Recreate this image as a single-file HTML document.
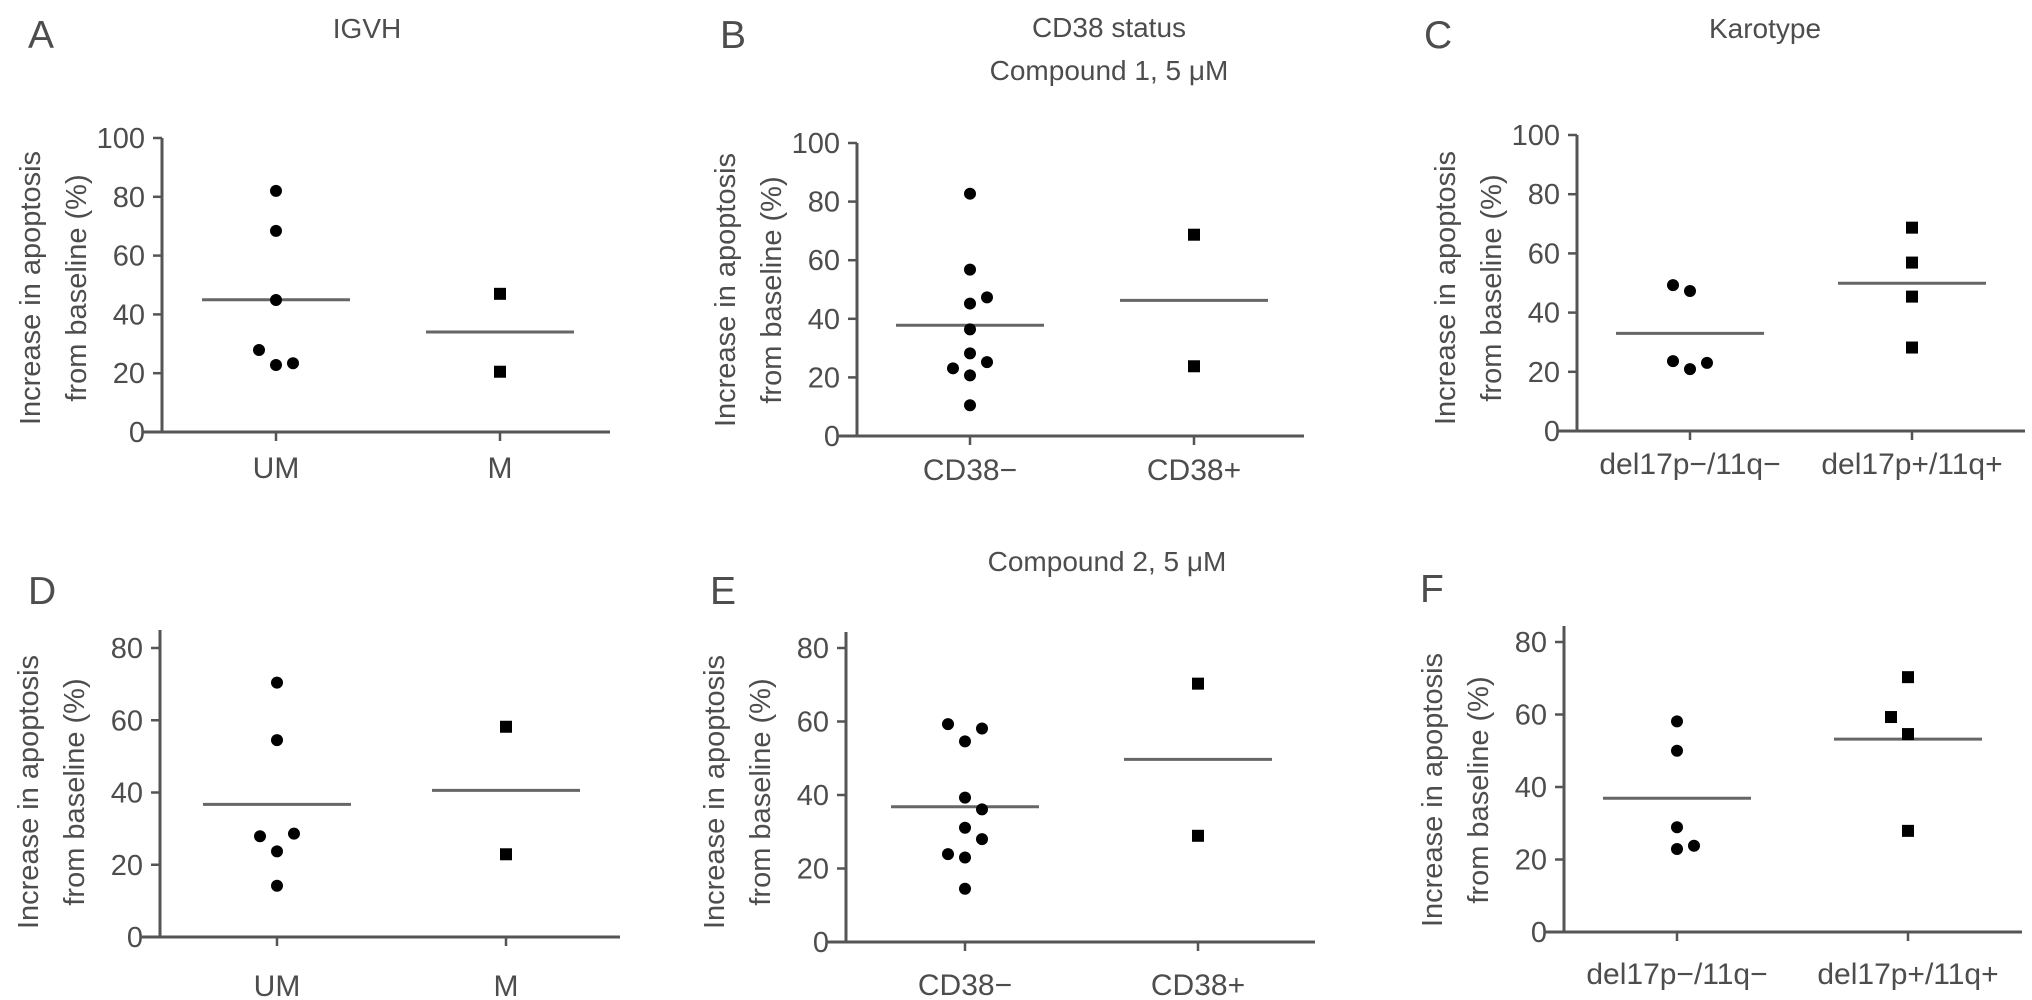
<!DOCTYPE html>
<html><head><meta charset="utf-8"><style>
html,body{margin:0;padding:0;background:#fff;}
svg{display:block;}
text{font-family:"Liberation Sans",Arial,sans-serif;fill:#4d4d4d;}
</style></head><body>
<svg id="fig" width="2032" height="1000" viewBox="0 0 2032 1000" xmlns="http://www.w3.org/2000/svg">
<g>
<text x="28" y="48" font-size="39">A</text>
<text x="720" y="48" font-size="39">B</text>
<text x="1424" y="48" font-size="39">C</text>
<text x="28" y="604" font-size="39">D</text>
<text x="710" y="604" font-size="39">E</text>
<text x="1420" y="602" font-size="39">F</text>
<text x="367" y="38" font-size="28" text-anchor="middle">IGVH</text>
<text x="1109" y="37" font-size="28" text-anchor="middle">CD38 status</text>
<text x="1109" y="80" font-size="28" text-anchor="middle">Compound 1, 5 μM</text>
<text x="1765" y="38" font-size="28" text-anchor="middle">Karotype</text>
<text x="1107" y="571" font-size="28" text-anchor="middle">Compound 2, 5 μM</text>
</g>
</svg>
<script>
// ---- data ----
const catsIGVH = ["UM", "M"];
const catsCD38 = ["CD38\u2212", "CD38+"];
const catsKaryo = ["del17p\u2212/11q\u2212", "del17p+/11q+"];
const ticksTop = [0, 20, 40, 60, 80, 100];
const ticksBottom = [0, 20, 40, 60, 80];

const aUM = [82, 68.4, 44.9, 27.9, 22.8, 23.4];
const aUMslot = [0, 0, 0, -1, 0, 1];
const aM = [47, 20.5];
const aMslot = [0, 0];
const aMeans = [45, 34];

const bNeg = [82.7, 56.8, 45.2, 47.3, 36.4, 28.2, 25.2, 23.1, 20.7, 10.5];
const bNegSlot = [0, 0, 0, 1, 0, 0, 1, -1, 0, 0];
const bPos = [68.7, 23.8];
const bPosSlot = [0, 0];
const bMeans = [37.8, 46.3];

const cNeg = [49.3, 47.3, 23.6, 20.9, 23];
const cNegSlot = [-1, 0, -1, 0, 1];
const cPos = [68.7, 56.9, 45.4, 28.2];
const cPosSlot = [0, 0, 0, 0];
const cMeans = [33, 49.9];

const dUM = [70.4, 54.5, 27.9, 28.6, 23.7, 14.2];
const dUMslot = [0, 0, -1, 1, 0, 0];
const dM = [58.2, 22.9];
const dMslot = [0, 0];
const dMeans = [36.7, 40.6];

const eNeg = [59.3, 58.1, 54.6, 39.3, 36.1, 31.1, 28.0, 23.9, 23.0, 14.5];
const eNegSlot = [-1, 1, 0, 0, 1, 0, 1, -1, 0, 0];
const ePos = [70.3, 28.9];
const ePosSlot = [0, 0];
const eMeans = [36.8, 49.7];

const fNeg = [58.1, 50, 28.9, 22.9, 23.8];
const fNegSlot = [0, 0, 0, 0, 1];
const fPos = [70.3, 59.3, 54.6, 27.9];
const fPosSlot = [0, -1, 0, 0];
const fMeans = [36.9, 53.2];

// ---- drawing ----
const NS = "http://www.w3.org/2000/svg";
const svg = document.getElementById("fig");
function mk(tag, attrs, parent) {
  const e = document.createElementNS(NS, tag);
  for (const k in attrs) e.setAttribute(k, attrs[k]);
  parent.appendChild(e);
  return e;
}
const AX = "#555";

function panel(id, L, cats, ticks, vmax, groups, slots, means) {
  const g = mk("g", {}, svg);
  
  
  const yS = v => L.y0 - (v / vmax) * (L.y0 - L.yMax);
  const xS = i => L.cx[i];
  const ya = mk("line", {x1: L.ax, x2: L.ax, y1: L.axTop, y2: L.y0 + 1.5, stroke: AX, "stroke-width": 3}, g);
  
  
  ticks.forEach(t => {
    const y = yS(t);
    const tl = mk("line", {x1: L.ax - 9, x2: L.ax, y1: y, y2: y, stroke: AX, "stroke-width": 2.5}, g);
    
    
    const tx = mk("text", {x: L.ax - 17, y: y + 10, "font-size": 29, "text-anchor": "end"}, g);
    tx.textContent = t;
    
    
  });
  const xa = mk("line", {x1: L.ax - 20, x2: L.xEnd, y1: L.y0, y2: L.y0, stroke: AX, "stroke-width": 3}, g);
  
  
  cats.forEach((c, i) => {
    const x = xS(i);
    const tl = mk("line", {x1: x, x2: x, y1: L.y0, y2: L.y0 + 9, stroke: AX, "stroke-width": 2.5}, g);
    
    
    const tx = mk("text", {x: x, y: L.labY, "font-size": 30, "text-anchor": "middle"}, g);
    tx.textContent = c;
    
    
  });
  const cy = L.titleY;
  const t1 = mk("text", {x: 0, y: 0, "font-size": 29, "text-anchor": "middle", transform: `translate(${L.ax - 122},${cy}) rotate(-90)`}, g);
  t1.textContent = "Increase in apoptosis";
  
  
  const t2 = mk("text", {x: 0, y: 0, "font-size": 29, "text-anchor": "middle", transform: `translate(${L.ax - 76},${cy}) rotate(-90)`}, g);
  t2.textContent = "from baseline (%)";
  
  
  means.forEach((m, i) => {
    const y = yS(m);
    const ml = mk("line", {x1: xS(i) - 74, x2: xS(i) + 74, y1: y, y2: y, stroke: "#666", "stroke-width": 3}, g);
    
    
  });
  groups.forEach((vals, gi) => {
    vals.forEach((v, k) => {
      const x = xS(gi) + slots[gi][k] * 17;
      const y = yS(v);
      let p;
      if (gi === 0) {
        p = mk("circle", {cx: x, cy: y, r: 6, fill: "#000"}, g);
        
      } else {
        p = mk("rect", {x: x - 6, y: y - 6, width: 12, height: 12, fill: "#000"}, g);
        
      }
      
    });
  });
}

panel("a", {ax:162, y0:432, yMax:138, axTop:138, xEnd:610, cx:[276,500], labY:478, titleY:288}, catsIGVH, ticksTop, 100, [aUM, aM], [aUMslot, aMslot], aMeans);
panel("b", {ax:857, y0:436, yMax:143, axTop:143, xEnd:1304, cx:[970,1194], labY:480, titleY:290}, catsCD38, ticksTop, 100, [bNeg, bPos], [bNegSlot, bPosSlot], bMeans);
panel("c", {ax:1577, y0:431, yMax:135, axTop:135, xEnd:2025, cx:[1690,1912], labY:474, titleY:288}, catsKaryo, ticksTop, 100, [cNeg, cPos], [cNegSlot, cPosSlot], cMeans);
panel("d", {ax:160, y0:937, yMax:648, axTop:630, xEnd:620, cx:[277,506], labY:996, titleY:792}, catsIGVH, ticksBottom, 80, [dUM, dM], [dUMslot, dMslot], dMeans);
panel("e", {ax:846, y0:942, yMax:648, axTop:632, xEnd:1315, cx:[965,1198], labY:995, titleY:792}, catsCD38, ticksBottom, 80, [eNeg, ePos], [eNegSlot, ePosSlot], eMeans);
panel("f", {ax:1564, y0:932, yMax:642, axTop:626, xEnd:2022, cx:[1677,1908], labY:984, titleY:790}, catsKaryo, ticksBottom, 80, [fNeg, fPos], [fNegSlot, fPosSlot], fMeans);
</script>
</body></html>
